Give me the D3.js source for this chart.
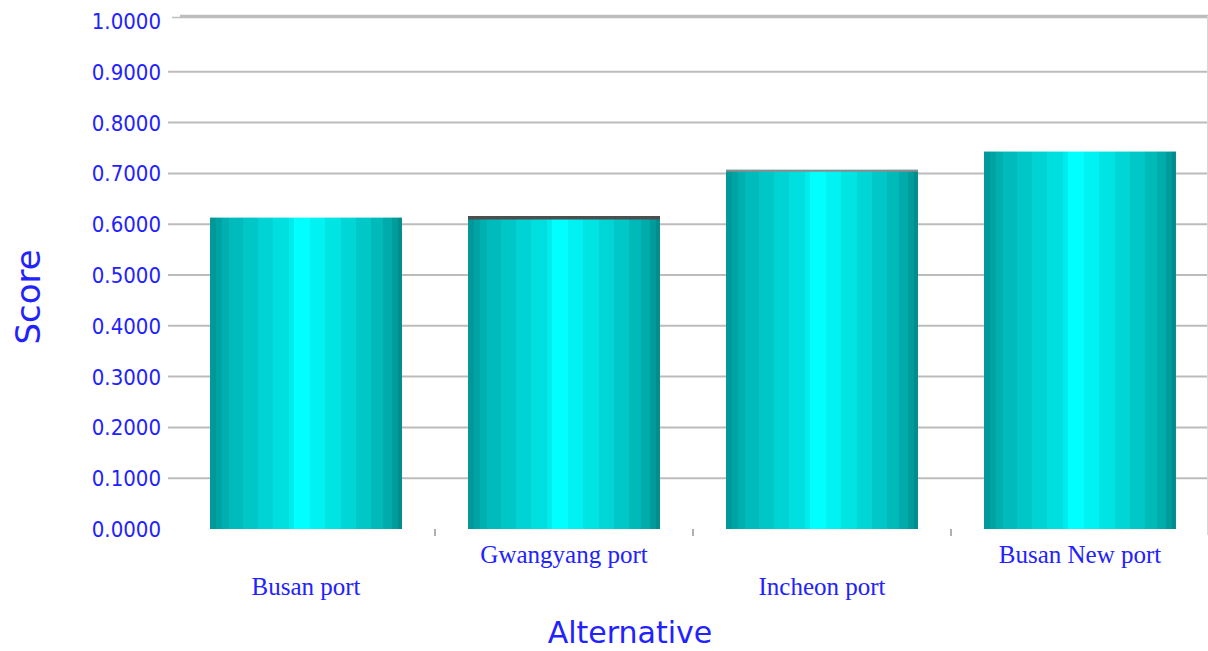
<!DOCTYPE html>
<html>
<head>
<meta charset="utf-8">
<script src="https://cdn.jsdelivr.net/npm/d3@7"></script>
<style>
  html, body { margin: 0; padding: 0; background: #ffffff; }
  svg { display: block; }
</style>
</head>
<body>
<svg id="chart" width="1208" height="651"></svg>
<script>
// Alternatives and their overall scores
const categories = ["Busan port", "Gwangyang port", "Incheon port", "Busan New port"];
const scores = [0.613, 0.616, 0.707, 0.743];
const tickValues = [0, 0.1, 0.2, 0.3, 0.4, 0.5, 0.6, 0.7, 0.8, 0.9, 1.0];
const tickLabels = ["0.0000", "0.1000", "0.2000", "0.3000", "0.4000", "0.5000",
                    "0.6000", "0.7000", "0.8000", "0.9000", "1.0000"];

const W = 1208, H = 651;
const blue = "#2222ff";
const svg = d3.select("#chart");

const x = d3.scaleBand().domain(categories).range([177, 1209]).paddingInner(0).paddingOuter(0);
const y = d3.scaleLinear().domain([0, 1]).range([529, 21]);
const barW = x.bandwidth() * 0.744;

// stepped cyan shading across each column
const shades = [
  [0.00, "#009898"], [0.03, "#00a3a3"], [0.06, "#00afaf"], [0.10, "#00bbbb"],
  [0.17, "#00c7c7"], [0.25, "#00d3d3"], [0.33, "#00dfdf"], [0.41, "#00ebeb"],
  [0.44, "#00ffff"], [0.52, "#00f2f2"], [0.60, "#00e4e4"], [0.68, "#00d6d6"],
  [0.76, "#00c8c8"], [0.84, "#00b9b9"], [0.90, "#00abab"], [0.95, "#009c9c"],
  [0.98, "#008d8d"], [1.00, null]
];
const defs = svg.append("defs");
const grad = defs.append("linearGradient").attr("id", "colShade")
  .attr("x1", "0%").attr("x2", "100%").attr("y1", "0%").attr("y2", "0%");
for (let i = 0; i < shades.length - 1; i++) {
  grad.append("stop").attr("offset", shades[i][0]).attr("stop-color", shades[i][1]);
  grad.append("stop").attr("offset", shades[i + 1][0]).attr("stop-color", shades[i][1]);
}

// top frame edge
svg.append("line").attr("x1", 172).attr("x2", 181).attr("y1", y(1) - 3.5).attr("y2", y(1) - 3.5)
  .attr("stroke", "#bdbdbd").attr("stroke-width", 1.5);
svg.append("line").attr("x1", 180).attr("x2", W).attr("y1", y(1) - 4.5).attr("y2", y(1) - 4.5)
  .attr("stroke", "#bdbdbd").attr("stroke-width", 3.5);
// right frame edge
svg.append("line").attr("x1", 1207.5).attr("x2", 1207.5).attr("y1", y(1) - 5).attr("y2", y(0) + 6)
  .attr("stroke", "#d8d8d8").attr("stroke-width", 1);

// horizontal grid lines
svg.append("g").selectAll("line")
  .data(tickValues.filter(v => v > 0 && v < 1))
  .join("line")
  .attr("x1", 168).attr("x2", W - 1)
  .attr("y1", d => y(d)).attr("y2", d => y(d))
  .attr("stroke", "#bcbcbc").attr("stroke-width", 2);

// y tick labels
svg.append("g").selectAll("text")
  .data(tickValues)
  .join("text")
  .attr("x", 161).attr("y", d => y(d))
  .attr("dy", "0.36em")
  .attr("text-anchor", "end")
  .attr("fill", blue)
  .style("font-family", "'DejaVu Sans Condensed', 'DejaVu Sans', sans-serif")
  .style("font-stretch", "condensed")
  .style("font-size", "22px")
  .text((d, i) => tickLabels[i]);

// category separators on the baseline
svg.append("g").selectAll("line")
  .data(categories.slice(1))
  .join("line")
  .attr("x1", d => x(d)).attr("x2", d => x(d))
  .attr("y1", y(0) + 0).attr("y2", y(0) + 7)
  .attr("stroke", "#b0b0b0").attr("stroke-width", 2);

// columns
const bars = svg.append("g");
bars.selectAll("rect")
  .data(categories)
  .join("rect")
  .attr("x", d => x(d) + (x.bandwidth() - barW) / 2)
  .attr("width", barW)
  .attr("y", (d, i) => y(scores[i]))
  .attr("height", (d, i) => y(0) - y(scores[i]))
  .attr("fill", "url(#colShade)");

// darker rim along some column tops
const rimColor = [null, "#4e4e4e", "#8c8c8c", null];
const rimWidth = [0, 3.5, 2, 0];
bars.selectAll("line.rim")
  .data(categories.filter((d, i) => rimColor[i]))
  .join("line")
  .attr("class", "rim")
  .attr("x1", d => x(d) + (x.bandwidth() - barW) / 2)
  .attr("x2", d => x(d) + (x.bandwidth() + barW) / 2)
  .attr("y1", d => y(scores[categories.indexOf(d)]) + rimWidth[categories.indexOf(d)] / 2)
  .attr("y2", d => y(scores[categories.indexOf(d)]) + rimWidth[categories.indexOf(d)] / 2)
  .attr("stroke", d => rimColor[categories.indexOf(d)])
  .attr("stroke-width", d => rimWidth[categories.indexOf(d)]);

// staggered category labels
svg.append("g").selectAll("text")
  .data(categories)
  .join("text")
  .attr("x", d => x(d) + x.bandwidth() / 2)
  .attr("y", (d, i) => i % 2 === 0 ? 595 : 563)
  .attr("text-anchor", "middle")
  .attr("fill", blue)
  .style("font-family", "'Liberation Serif', 'Times New Roman', serif")
  .style("font-size", "25px")
  .text(d => d);

// axis titles
svg.append("text")
  .attr("transform", "translate(40,297) rotate(-90)")
  .attr("text-anchor", "middle")
  .attr("fill", blue)
  .style("font-family", "'DejaVu Sans', Verdana, sans-serif")
  .style("font-size", "34px")
  .text("Score");

svg.append("text")
  .attr("x", 630).attr("y", 643)
  .attr("text-anchor", "middle")
  .attr("fill", blue)
  .style("font-family", "'DejaVu Sans', Verdana, sans-serif")
  .style("font-size", "30px")
  .text("Alternative");
</script>
</body>
</html>
